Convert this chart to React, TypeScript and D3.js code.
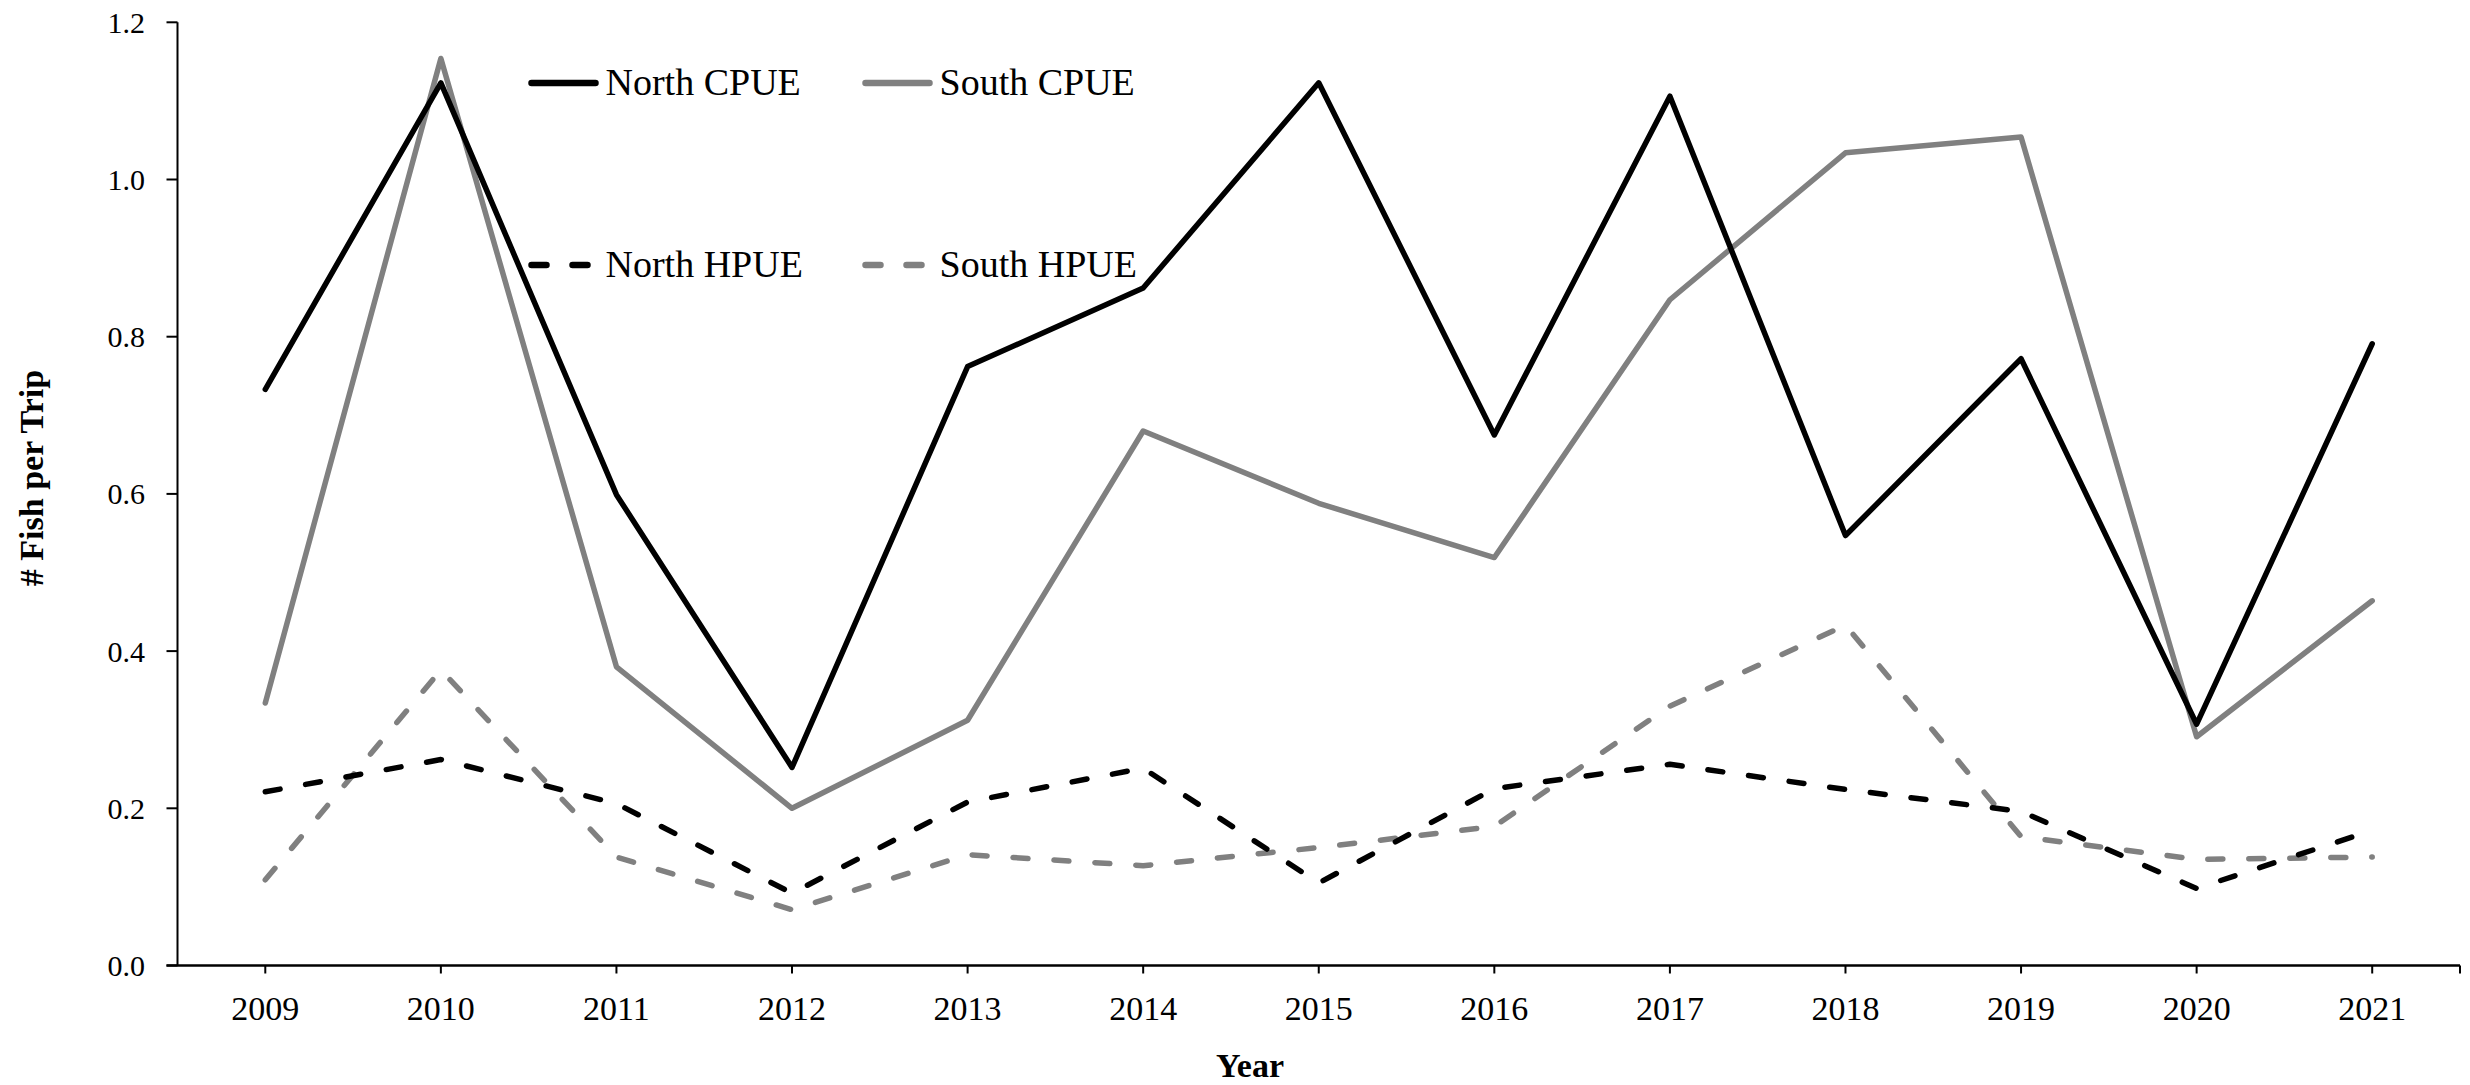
import React, { useEffect, useRef } from 'react';
import * as d3 from 'd3';

const years = ['2009', '2010', '2011', '2012', '2013', '2014', '2015', '2016', '2017', '2018', '2019', '2020', '2021'];
const northCPUE = [0.733, 1.123, 0.599, 0.252, 0.762, 0.862, 1.123, 0.675, 1.106, 0.547, 0.772, 0.307, 0.791];
const southCPUE = [0.334, 1.154, 0.38, 0.2, 0.312, 0.68, 0.588, 0.519, 0.847, 1.034, 1.054, 0.291, 0.464];
const northHPUE = [0.221, 0.262, 0.206, 0.092, 0.208, 0.251, 0.105, 0.225, 0.256, 0.224, 0.196, 0.098, 0.172];
const southHPUE = [0.109, 0.376, 0.138, 0.071, 0.141, 0.127, 0.15, 0.177, 0.33, 0.433, 0.164, 0.135, 0.138];
const yTicks = [0, 0.2, 0.4, 0.6, 0.8, 1.0, 1.2];

const FONT = '"Liberation Serif", "Times New Roman", serif';
const GRAY = '#808080';
const DASH = '15 26';

interface Series {
  name: string;
  values: number[];
  color: string;
  dashed: boolean;
}

const series: Series[] = [
  { name: 'North CPUE', values: northCPUE, color: '#000', dashed: false },
  { name: 'South CPUE', values: southCPUE, color: GRAY, dashed: false },
  { name: 'North HPUE', values: northHPUE, color: '#000', dashed: true },
  { name: 'South HPUE', values: southHPUE, color: GRAY, dashed: true },
];

export default function App() {
  const ref = useRef<SVGSVGElement>(null);
  const width = 2470;
  const height = 1085;

  useEffect(() => {
    if (!ref.current) return;
    const svg = d3.select(ref.current);
    svg.selectAll('*').remove();

    const left = 177.5;
    const right = 2460;
    const top = 22.3;
    const bottom = 965.5;

    const x = d3.scaleBand().domain(years).range([left, right]);
    const cx = (yr: string) => x(yr)! + x.bandwidth() / 2;
    const y = d3.scaleLinear().domain([0, 1.2]).range([bottom, top]);

    svg.append('rect').attr('width', width).attr('height', height).attr('fill', '#fff');

    // series lines (solid first, dashed on top)
    const line = d3.line<number>()
      .x((_, i) => cx(years[i]))
      .y((d) => y(d));

    const drawOrder = [series[1], series[0], series[3], series[2]];
    drawOrder.forEach((s) => {
      svg.append('path')
        .attr('d', line(s.values)!)
        .attr('fill', 'none')
        .attr('stroke', s.color)
        .attr('stroke-width', 5.5)
        .attr('stroke-linejoin', 'round')
        .attr('stroke-linecap', 'round')
        .attr('stroke-dasharray', s.dashed ? DASH : null);
    });

    // y axis
    svg.append('line')
      .attr('x1', left).attr('x2', left)
      .attr('y1', top).attr('y2', bottom)
      .attr('stroke', '#000').attr('stroke-width', 2);

    svg.selectAll('.ytick')
      .data(yTicks)
      .join('line')
      .attr('class', 'ytick')
      .attr('x1', left - 11).attr('x2', left)
      .attr('y1', (d) => y(d)).attr('y2', (d) => y(d))
      .attr('stroke', '#000').attr('stroke-width', 2);

    svg.selectAll('.ylab')
      .data(yTicks)
      .join('text')
      .attr('class', 'ylab')
      .attr('x', 145)
      .attr('y', (d) => y(d))
      .attr('dy', '0.35em')
      .attr('text-anchor', 'end')
      .attr('font-family', FONT)
      .attr('font-size', '30px')
      .attr('fill', '#000')
      .text((d) => d.toFixed(1));

    // x axis
    svg.append('line')
      .attr('x1', left - 11).attr('x2', right)
      .attr('y1', bottom).attr('y2', bottom)
      .attr('stroke', '#000').attr('stroke-width', 2.5);

    svg.selectAll('.xtick')
      .data(years)
      .join('line')
      .attr('class', 'xtick')
      .attr('x1', (d) => cx(d)).attr('x2', (d) => cx(d))
      .attr('y1', bottom).attr('y2', bottom + 8)
      .attr('stroke', '#000').attr('stroke-width', 2);

    svg.append('line')
      .attr('x1', right).attr('x2', right)
      .attr('y1', bottom).attr('y2', bottom + 8)
      .attr('stroke', '#000').attr('stroke-width', 2);

    svg.selectAll('.xlab')
      .data(years)
      .join('text')
      .attr('class', 'xlab')
      .attr('x', (d) => cx(d))
      .attr('y', 1020)
      .attr('text-anchor', 'middle')
      .attr('font-family', FONT)
      .attr('font-size', '34px')
      .attr('fill', '#000')
      .text((d) => d);

    // axis titles
    svg.append('text')
      .attr('x', 1250).attr('y', 1077)
      .attr('text-anchor', 'middle')
      .attr('font-family', FONT)
      .attr('font-weight', 'bold')
      .attr('font-size', '34px')
      .text('Year');

    svg.append('text')
      .attr('transform', 'translate(43,478) rotate(-90)')
      .attr('text-anchor', 'middle')
      .attr('font-family', FONT)
      .attr('font-weight', 'bold')
      .attr('font-size', '34px')
      .text('# Fish per Trip');

    // legend, 2 x 2
    const legendCols = [531.5, 865.5];
    const legendRows = [83, 265];
    series.forEach((s, i) => {
      const lx = legendCols[i % 2];
      const ly = legendRows[Math.floor(i / 2)];
      svg.append('line')
        .attr('x1', lx).attr('x2', lx + 64)
        .attr('y1', ly).attr('y2', ly)
        .attr('stroke', s.color)
        .attr('stroke-width', 6.5)
        .attr('stroke-linecap', 'round')
        .attr('stroke-dasharray', s.dashed ? DASH : null);
      svg.append('text')
        .attr('x', lx + 74)
        .attr('y', ly + 12)
        .attr('font-family', FONT)
        .attr('font-size', '38px')
        .attr('fill', '#000')
        .text(s.name);
    });
  }, []);

  return (
    <svg
      ref={ref}
      width={width}
      height={height}
      style={{ position: 'absolute', left: 0, top: 0, display: 'block' }}
    />
  );
}
